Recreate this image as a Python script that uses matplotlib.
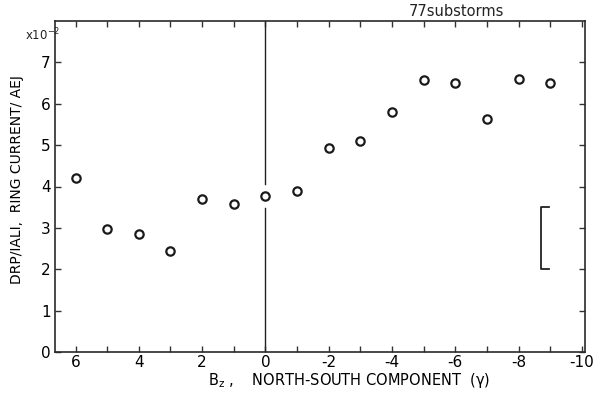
import matplotlib
matplotlib.use("Agg")
import matplotlib.pyplot as plt

# Data
bz = [6, 5, 4, 3, 2, 1, 0, -1, -2, -3, -4, -5, -6, -7, -8, -9]
ratio = [4.20, 2.97, 2.85, 2.44, 3.69, 3.57, 3.78, 3.88,
         4.92, 5.11, 5.79, 6.58, 6.51, 5.62, 6.61, 6.49]
xtick_vals = [6, 4, 2, 0, -2, -4, -6, -8, -10]
xtick_labels = ["6", "4", "2", "0", "-2", "-4", "-6", "-8", "-10"]
ytick_vals = [0, 1, 2, 3, 4, 5, 6, 7]
err_x = -8.72
err_low, err_high = 2.0, 3.5
zero_line_low = [0, 3.47]
zero_line_high = [4.07, 8]

plt.rcParams['font.family'] = ['DejaVu Sans']
fig = plt.figure(figsize=(6.01, 3.96), dpi=100)
ax = fig.add_axes([55/601, 1 - 352/396, 530/601, 331/396])

ax.plot(bz, ratio, linestyle='none', marker='o', ms=6, mfc='white',
        mec='#1a1a1a', mew=1.6, zorder=3)

# vertical line at Bz = 0 (broken around the point)
ax.plot([0, 0], zero_line_low, color='#222222', lw=1.0)
ax.plot([0, 0], zero_line_high, color='#222222', lw=1.0)

# error bracket
ax.plot([err_x - 0.25, err_x, err_x, err_x - 0.25],
        [err_high, err_high, err_low, err_low], color='#222222', lw=1.3)

ax.set_xlim(6.65, -10.1)
ax.set_ylim(0, 8)
ax.set_xticks(range(6, -11, -1), minor=True)
ax.set_xticks(xtick_vals)
ax.set_xticklabels(xtick_labels)
ax.set_yticks(ytick_vals)
ax.tick_params(axis='both', which='both', direction='in', top=True,
               right=True, length=4, width=1, color='#333333',
               labelsize=11)
ax.tick_params(axis='x', which='both', pad=2)
ax.tick_params(axis='y', which='both', pad=3)
for s in ax.spines.values():
    s.set_linewidth(1.2)
    s.set_color('#2a2a2a')

ax.set_xlabel(r"B$_{\rm z}$ ,    NORTH-SOUTH COMPONENT  (γ)", fontsize=10.5)
ax.xaxis.set_label_coords(0.555, -0.058)
ax.set_ylabel("DRP/IALI,  RING CURRENT/ AEJ", fontsize=10)
ax.yaxis.set_label_coords(-0.058, 0.52)

fig.text(25/601, 1 - 35/396, r"x10$^{-2}$", fontsize=8.5, va='center',
         ha='left', color='#222222')
fig.text(456/601, 1 - 12/396, "77substorms", fontsize=10.5, ha='center',
         va='center', color='#222222')

fig.savefig("out.png", dpi=100)
